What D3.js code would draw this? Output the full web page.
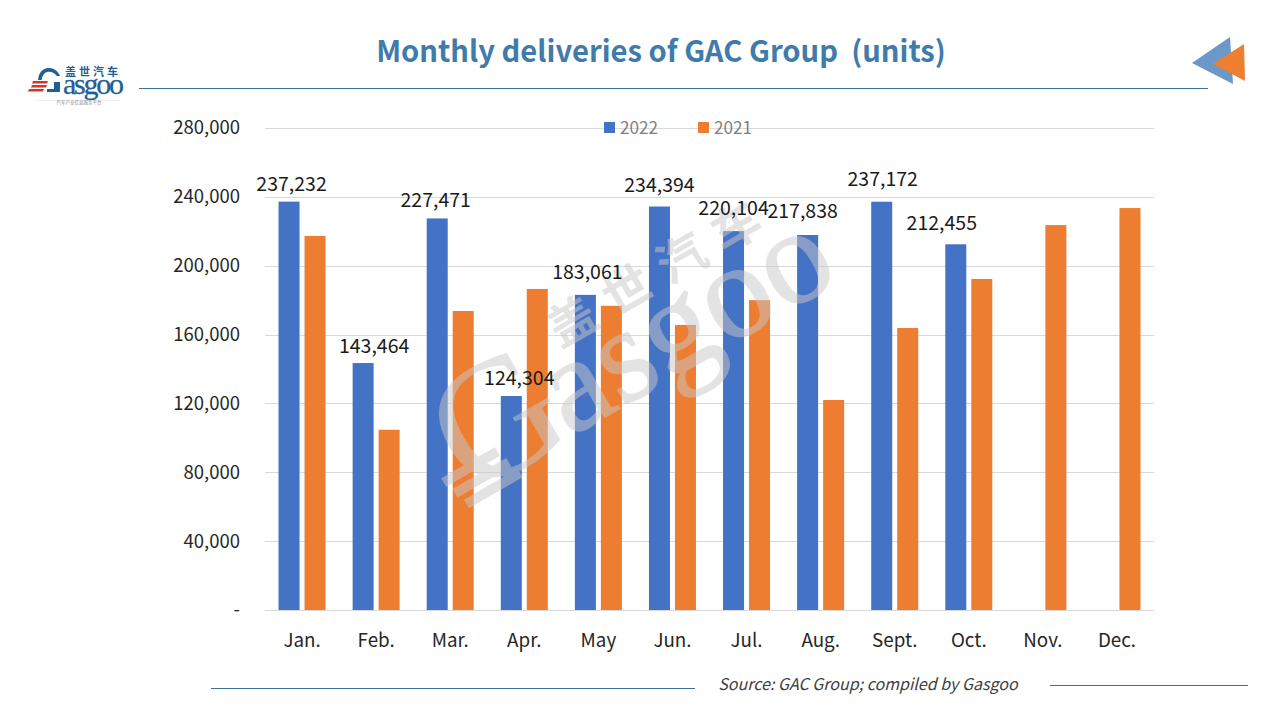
<!DOCTYPE html>
<html>
<head>
<meta charset="utf-8">
<script src="https://cdnjs.cloudflare.com/ajax/libs/d3/7.8.5/d3.min.js"></script>
<style>
html,body{margin:0;padding:0;background:#fff}
svg{display:block}
text{font-family:"Noto Sans CJK SC","Noto Sans",sans-serif}
</style>
</head>
<body>
<svg id="c" width="1280" height="720"></svg>
<script>
const months = ["Jan.","Feb.","Mar.","Apr.","May","Jun.","Jul.","Aug.","Sept.","Oct.","Nov.","Dec."];
const seriesNames = ["2022","2021"];
const values2022 = [237232,143464,227471,124304,183061,234394,220104,217838,237172,212455,null,null];
const values2021 = [217300,104700,173700,186500,176700,165600,180000,122000,163800,192300,223600,233500];
const yTicks = [0,40000,80000,120000,160000,200000,240000,280000];
const titleText = "Monthly deliveries of GAC Group  (units)";
const sourceText = "Source: GAC Group; compiled by Gasgoo";
const labelNudgeX = [2.5,11,-1.5,8,2,0,0,-5,1,-14];
const labelNudgeY = [18,17,18,18,23,22,23,24,23,21];

const svg = d3.select("#c");
const colors = {"2022":"#4472c4","2021":"#ed7d31"};
const y = d3.scaleLinear().domain([0,280000]).range([610,128]);
const x = d3.scaleBand().domain(months).range([265,1154]).paddingInner(0.3655).paddingOuter(0.18275);
const xs = d3.scaleBand().domain(seriesNames).range([0,x.bandwidth()]).paddingInner(0.192);
const vals = {"2022":values2022,"2021":values2021};

// header and footer rules
svg.append("text").attr("x",661).attr("y",62).attr("text-anchor","middle")
  .attr("font-size",29.2).attr("font-weight",700).attr("fill","#3f7cac")
  .style("white-space","pre").text(titleText);
[[139,1208,88.5],[211,695,688.5],[1050,1248,685.5]].forEach(r=>{
  svg.append("line").attr("x1",r[0]).attr("x2",r[1]).attr("y1",r[2]).attr("y2",r[2])
    .attr("stroke","#3d6f9c").attr("stroke-width",1);
});
svg.append("text").attr("x",868).attr("y",690).attr("text-anchor","middle")
  .attr("font-size",16).attr("font-style","italic").attr("fill","#404040").text(sourceText);

// arrow mark
svg.append("polygon").attr("points","1192,63 1230,37 1233,84").attr("fill","#6b97c9");
svg.append("polygon").attr("points","1213,64 1244,44 1245,81").attr("fill","#ef7f30");

// logo
const logo = svg.append("g");
logo.append("text").attr("x",63).attr("y",94).attr("font-size",30).attr("fill","#1f5f96")
  .attr("stroke","#1f5f96").attr("stroke-width",0.3)
  .style("font-family","'Liberation Serif',serif").attr("textLength",61).text("asgoo");
logo.append("path").attr("d","M38 80 C39 70 45 68 49 68 C54 68 58 71 60 76 L57 76 C54 72 50 71 47 72 C44 73 42 76 41.5 80 Z").attr("fill","#1f5f96");
logo.append("path").attr("d","M54 82 L60 82 L60 92 L47 92 L47 89 L54 89 Z").attr("fill","#1f5f96");
[[33,48,81],[32,47,85],[29,44,89]].forEach(s=>{
  logo.append("polygon").attr("points",`${s[0]},${s[2]} ${s[1]},${s[2]} ${s[1]-1},${s[2]+2.4} ${s[0]-1},${s[2]+2.4}`).attr("fill","#d9332c");
});
logo.append("text").attr("x",65).attr("y",75.5).attr("font-size",11).attr("font-weight",700).attr("fill","#1f5f96")
  .attr("textLength",53).text("盖世汽车");
logo.append("line").attr("x1",35).attr("x2",120).attr("y1",100.5).attr("y2",100.5).attr("stroke","#eeeeee");
logo.append("text").attr("x",79).attr("y",103.5).attr("text-anchor","middle").attr("font-size",4.5).attr("fill","#888").text("汽车产业信息服务平台");

// grid
svg.append("g").selectAll("line").data(yTicks).join("line")
  .attr("x1",265).attr("x2",1154).attr("y1",d=>Math.round(y(d))+0.5).attr("y2",d=>Math.round(y(d))+0.5)
  .attr("stroke","#d9d9d9").attr("stroke-width",1);

// axes
const yAxis = svg.append("g").attr("transform","translate(240,0)")
  .call(d3.axisLeft(y).tickValues(yTicks).tickSize(0).tickPadding(0).tickFormat(d=>d===0?"-":d3.format(",")(d)));
const xAxis = svg.append("g").attr("transform","translate(0,610)")
  .call(d3.axisBottom(x).tickSize(0).tickPadding(17));
[yAxis,xAxis].forEach(a=>{
  a.select(".domain").remove();
  a.selectAll("text").attr("font-size",18.5).attr("fill","#262626").style("font-family",'"Noto Sans CJK SC","Noto Sans",sans-serif');
});
xAxis.selectAll("text").attr("dy","1.05em").attr("font-size",18.8);

// bars
seriesNames.forEach(s=>{
  svg.append("g").selectAll("rect").data(months.map((m,i)=>({m,v:vals[s][i]})).filter(d=>d.v!=null)).join("rect")
    .attr("x",d=>x(d.m)+xs(s)).attr("width",xs.bandwidth())
    .attr("y",d=>y(d.v)).attr("height",d=>y(0)-y(d.v)).attr("fill",colors[s]);
});

// legend
const lx = d3.scalePoint().domain(seriesNames).range([604,698]);
seriesNames.forEach(s=>{
  svg.append("rect").attr("x",lx(s)).attr("y",122).attr("width",11).attr("height",11).attr("fill",colors[s]);
  svg.append("text").attr("x",lx(s)+16).attr("y",134).attr("font-size",17.2).attr("fill","#7f7f7f").text(s);
});

// watermark
const wm = svg.append("g").attr("transform","translate(690,331) rotate(-30)").attr("fill","#c9c9c9").attr("stroke","#c9c9c9").attr("opacity",0.5);
wm.append("text").attr("x",0).attr("y",32).attr("text-anchor","middle").attr("font-size",135).attr("stroke-width",1.5)
  .style("font-family","'Liberation Serif',serif").text("asgoo");
wm.append("text").attr("x",-212).attr("y",35).attr("text-anchor","middle").attr("font-size",170).attr("stroke-width",0)
  .style("font-family","'Liberation Serif',serif").text("G");
[3,18,33].forEach(v=>{
  wm.append("rect").attr("x",-290+v*0.3).attr("y",v).attr("width",62).attr("height",10).attr("stroke-width",0);
});
wm.append("text").attr("x",5).attr("y",-50).attr("text-anchor","middle").attr("font-size",48).attr("font-weight",700).attr("stroke-width",0)
  .attr("letter-spacing",15).text("盖世汽车");

// data labels
svg.append("g").selectAll("text").data(values2022.map((v,i)=>({v,i})).filter(d=>d.v!=null)).join("text")
  .attr("x",d=>x(months[d.i])+xs("2022")+xs.bandwidth()/2+labelNudgeX[d.i])
  .attr("y",d=>y(d.v)-labelNudgeY[d.i]+7)
  .attr("text-anchor","middle").attr("font-size",19.5).attr("fill","#1a1a1a")
  .text(d=>d3.format(",")(d.v));
</script>
</body>
</html>
